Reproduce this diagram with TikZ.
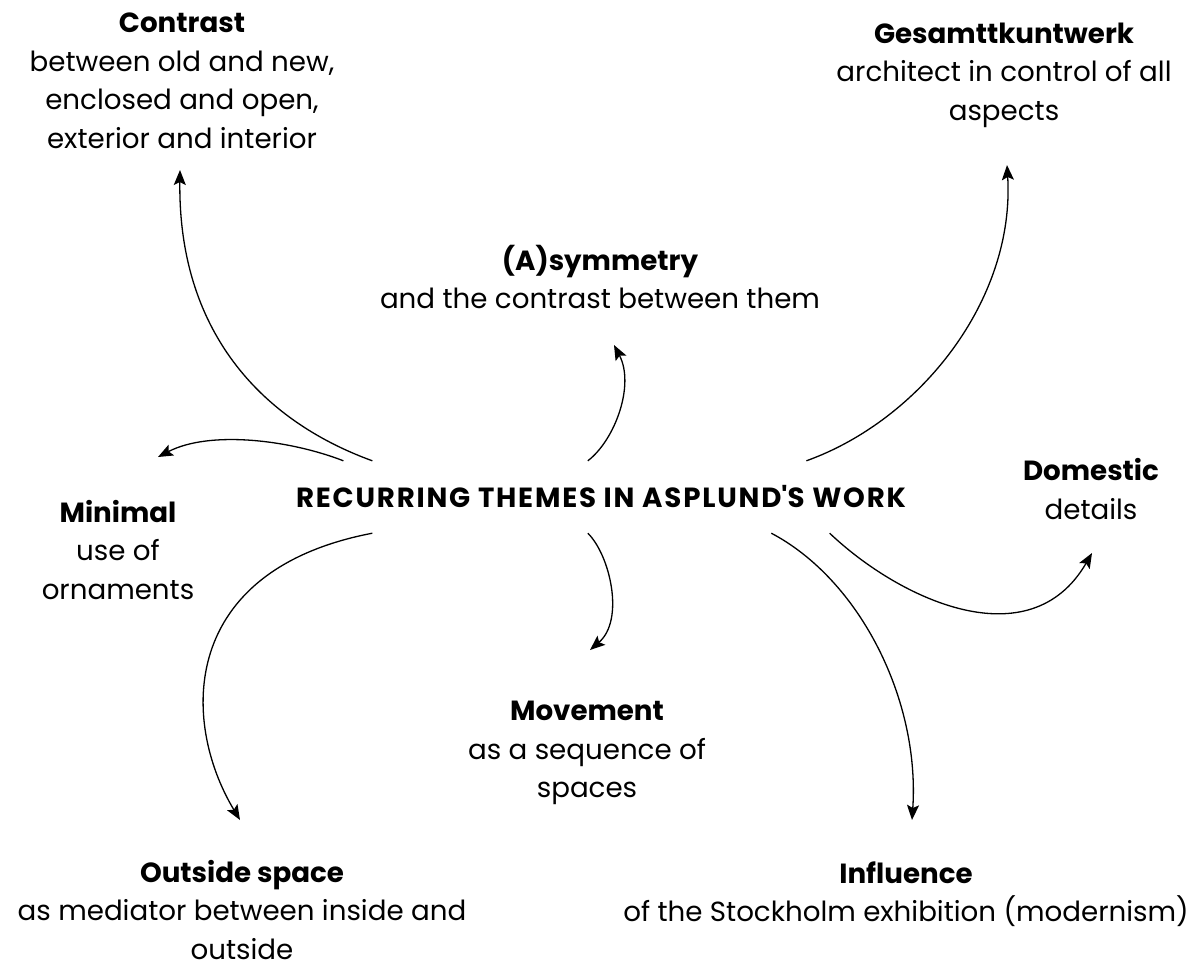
\documentclass[tikz,border=0pt]{standalone}
\usepackage{fontspec}
\setmainfont{Poppins}
\usepackage{tikz}
\usetikzlibrary{arrows.meta}

\begin{document}
\begin{tikzpicture}[x=1pt, y=-1pt, >={Stealth[length=15pt, width=12pt, inset=3pt]},
        theme/.style={align=center, inner sep=0pt, font=\fontsize{27.7}{38.5}\selectfont},
        hub/.style={minimum width=650pt, minimum height=72pt, inner sep=0pt,
          font=\fontsize{27.7}{30}\selectfont\bfseries\addfontfeatures{LetterSpace=6.5}},
        link/.style={->, line width=1.3pt},
      ]
      \useasboundingbox (0,0) rectangle (1198,969);

      % central theme and the ideas around it
      \node[hub] (themes) at (601,497) {RECURRING THEMES IN ASPLUND\textquotesingle S WORK};
      \node[theme] (contrast) at (182,81) {\textbf{Contrast}\\between old and new,\\enclosed and open,\\exterior and interior};
      \node[theme] (gesamt) at (1004,75) {\textbf{Gesamttkuntwerk}\\architect in control of all\\aspects};
      \node[theme] (asym) at (600,277) {\textbf{(A)symmetry}\\and the contrast between them};
      \node[theme] (minimal) at (118,550) {\textbf{Minimal}\\use of\\ornaments};
      \node[theme] (domestic) at (1091,489) {\textbf{Domestic}\\details};
      \node[theme] (movement) at (587,753) {\textbf{Movement}\\as a sequence of\\spaces};
      \node[theme] (outside) at (242,910) {\textbf{Outside space}\\as mediator between inside and\\outside};
      \node[theme] (influence) at (906,894) {\textbf{Influence}\\of the Stockholm exhibition (modernism)};

      % curved links out of the centre
      \draw[link] (themes.171) .. controls (260,420) and (178,330) .. ([shift={(-2,89)}]contrast.center);
      \draw[link] (themes.172.3) .. controls (290,440) and (210,430) .. ([shift={(40,-93)}]minimal.center);
      \draw[link] (themes.110) .. controls (615,440) and (635,385) .. ([shift={(14,68)}]asym.center);
      \draw[link] (themes.10) .. controls (920,420) and (1015,300) .. ([shift={(3,90)}]gesamt.center);
      \draw[link] (themes.-9.7) .. controls (900,600) and (1030,660) .. ([shift={(1,64)}]domestic.center);
      \draw[link] (themes.-12.8) .. controls (860,580) and (920,700) .. ([shift={(6,-74)}]influence.center);
      \draw[link] (themes.250) .. controls (610,555) and (625,620) .. ([shift={(3,-103)}]movement.center);
      \draw[link] (themes.189.7) .. controls (180,570) and (180,720) .. ([shift={(-2,-90)}]outside.center);
    \end{tikzpicture}
\end{document}
